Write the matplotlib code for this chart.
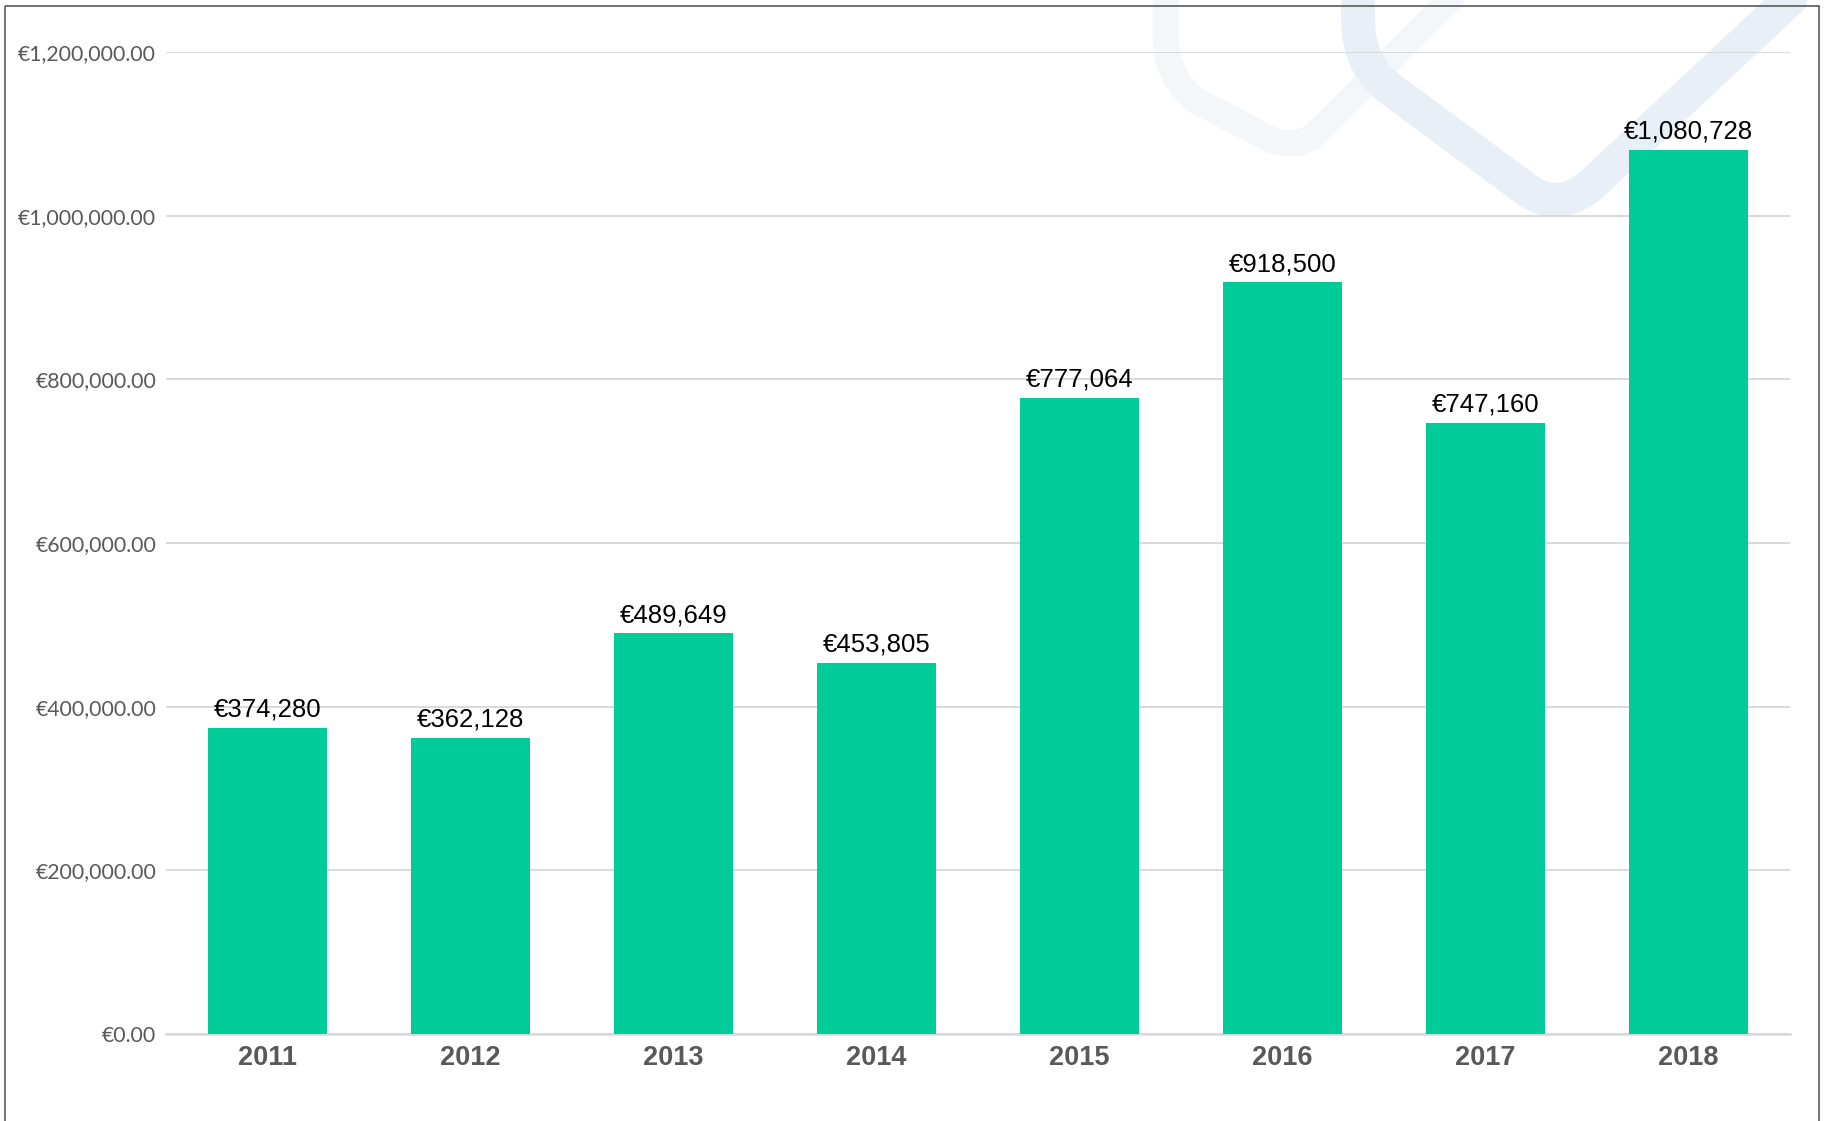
import matplotlib.pyplot as plt
from matplotlib.patches import Rectangle, PathPatch
from matplotlib.path import Path
from matplotlib.transforms import Affine2D
from matplotlib.ticker import FuncFormatter

years = ['2011', '2012', '2013', '2014', '2015', '2016', '2017', '2018']
amounts = [374280, 362128, 489649, 453805, 777064, 918500, 747160, 1080728]
y_ticks = [0, 200000, 400000, 600000, 800000, 1000000, 1200000]

bar_color = '#00CC9A'
grid_color = '#D9D9D9'
tick_color = '#595959'

W, H = 1829, 1121
fig = plt.figure(figsize=(W / 100, H / 100), dpi=100)
ax = fig.add_axes([166 / W, 1 - 1034 / H, (1790 - 166) / W, (1034 - 52) / H])
ax.patch.set_visible(False)

# pixel coords (origin top-left) -> figure
pix = Affine2D().scale(1 / W, -1 / H).translate(0, 1) + fig.transFigure

# faint logo watermark in the top right
M, L, C = Path.MOVETO, Path.LINETO, Path.CURVE3
logo_a = Path([(1166, -30), (1166, 40), (1166, 75), (1195, 100), (1262, 135),
               (1290, 152), (1315, 135), (1465, -15)],
              [M, L, C, C, L, C, C, L])
logo_b = Path([(1358, -30), (1358, 20), (1358, 60), (1385, 85), (1527, 190),
               (1557, 212), (1590, 186), (1800, -10)],
              [M, L, C, C, L, C, C, L])
for p, col, lw in [(logo_a, '#F4F7FA', 19), (logo_b, '#E8EFF6', 24.5)]:
    fig.add_artist(PathPatch(p, transform=pix, fill=False, edgecolor=col, lw=lw,
                             capstyle='round', joinstyle='round', zorder=-1))

# outer frame
fig.add_artist(Rectangle((5, 6), 1819 - 5, 1200, transform=pix, fill=False,
                         edgecolor='#595959', lw=1.2, zorder=-0.5))

x = range(len(years))
ax.bar(x, amounts, width=0.59, color=bar_color, zorder=3)

for xi, v in zip(x, amounts):
    ax.annotate('€{:,}'.format(v), (xi, v), xytext=(0, 8), textcoords='offset points',
                ha='center', va='baseline', fontsize=18.5, family='Liberation Sans',
                color='black', zorder=4)

ax.set_xlim(-0.5, len(years) - 0.5)
ax.set_ylim(0, 1200000)
ax.set_yticks(y_ticks)
ax.yaxis.set_major_formatter(FuncFormatter(lambda v, p: '€{:,.2f}'.format(v)))
ax.set_xticks(list(x))
ax.set_xticklabels(years, fontdict={'family': 'Liberation Sans', 'weight': 'bold',
                                    'size': 19.5, 'color': tick_color})

for lab in ax.get_yticklabels():
    lab.set_family('Lato')
    lab.set_fontsize(15.3)
    lab.set_color(tick_color)

ax.tick_params(axis='both', length=0)
ax.tick_params(axis='y', pad=7)
ax.tick_params(axis='x', pad=8)
ax.grid(axis='y', color=grid_color, lw=1.4, zorder=0)
for s in ['top', 'right', 'left']:
    ax.spines[s].set_visible(False)
ax.spines['bottom'].set_color(grid_color)
ax.spines['bottom'].set_linewidth(1.8)
ax.spines['bottom'].set_zorder(2)

fig.savefig('out.png', dpi=100)
